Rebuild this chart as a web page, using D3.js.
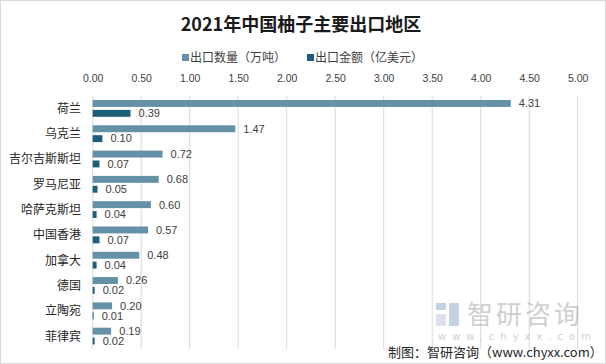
<!DOCTYPE html>
<html><head><meta charset="utf-8">
<script src="https://cdn.jsdelivr.net/npm/d3@7"></script>
<style>body{margin:0;background:#fff}svg{display:block;font-family:"Noto Sans CJK SC","Microsoft YaHei",sans-serif}</style>
</head><body>
<svg id="c" width="606" height="364"></svg>
<script>
const categories = ["荷兰","乌克兰","吉尔吉斯斯坦","罗马尼亚","哈萨克斯坦","中国香港","加拿大","德国","立陶宛","菲律宾"];
const quantity = [4.31,1.47,0.72,0.68,0.60,0.57,0.48,0.26,0.20,0.19];
const amount = [0.39,0.10,0.07,0.05,0.04,0.07,0.04,0.02,0.01,0.02];
const seriesNames = ["出口数量（万吨）","出口金额（亿美元）"];
const ticks = [0,0.5,1,1.5,2,2.5,3,3.5,4,4.5,5];
const colors = ["#6490a8","#1d5f7a"];
const numFont = "'Liberation Sans',Arial,sans-serif";

const svg = d3.select("#c");
svg.append("rect").attr("x",0.5).attr("y",0.5).attr("width",605).attr("height",363).attr("fill","#fff").attr("stroke","#d9d9d9");

const x = d3.scaleLinear().domain([0,5]).range([92.7,577.7]);
const y = d3.scaleBand().domain(categories).range([96,349]).paddingInner(0).paddingOuter(0);
const sub = d3.scaleBand().domain([0,1]).range([4,y.bandwidth()-4.5]).paddingInner(0.3);

// grid
svg.append("g").selectAll("line").data(ticks).join("line")
  .attr("x1",d=>x(d)).attr("x2",d=>x(d)).attr("y1",96).attr("y2",349)
  .attr("stroke","#d9d9d9").attr("stroke-width",1);

// top axis labels
const ax = svg.append("g").attr("transform","translate(0,85)").call(d3.axisTop(x).tickValues(ticks).tickFormat(d3.format(".2f")).tickSize(0));
ax.select(".domain").remove();
ax.selectAll("text").attr("font-size",10.5).attr("fill","#404040").attr("font-family",numFont);

// bars
const series = [quantity, amount];
series.forEach((vals,si)=>{
  const g = svg.append("g");
  g.selectAll("rect").data(vals).join("rect")
    .attr("x",x(0)).attr("y",(d,i)=>y(categories[i])+sub(si))
    .attr("width",d=>x(d)-x(0)).attr("height",sub.bandwidth())
    .attr("fill",colors[si]);
  g.selectAll("text").data(vals).join("text")
    .attr("x",d=>x(d)+8).attr("y",(d,i)=>y(categories[i])+sub(si)+sub.bandwidth()/2)
    .attr("dy","0.35em").attr("font-size",11).attr("fill","#404040")
    .attr("font-family",numFont)
    .text(d=>d.toFixed(2));
});

// category labels
svg.append("g").selectAll("text").data(categories).join("text")
  .attr("x",81).attr("y",d=>y(d)+y.bandwidth()/2).attr("dy","0.35em")
  .attr("text-anchor","end").attr("font-size",12).attr("fill","#262626").text(d=>d);

// title
svg.append("text").attr("x",301).attr("y",31).attr("text-anchor","middle")
  .attr("font-size",18).attr("font-weight","bold").attr("fill","#1a1a1a").text("2021年中国柚子主要出口地区");

// legend
const lx = [182,307];
seriesNames.forEach((n,i)=>{
  svg.append("rect").attr("x",lx[i]).attr("y",54).attr("width",7).attr("height",7).attr("fill",colors[i]);
  svg.append("text").attr("x",lx[i]+8).attr("y",57.5).attr("dy","0.35em").attr("font-size",12).attr("fill","#404040").text(n);
});

// watermark
const wm = svg.append("g").attr("opacity",0.4);
wm.append("rect").attr("x",436).attr("y",303).attr("width",10).attr("height",7).attr("fill","#6a8fb5");
wm.append("rect").attr("x",449).attr("y",303).attr("width",10).attr("height",23).attr("fill","#6a8fb5");
wm.append("rect").attr("x",436).attr("y",314).attr("width",10).attr("height",12).attr("fill","#9fb6cf");
wm.append("text").attr("x",467).attr("y",324).attr("font-size",26).attr("fill","#8a8a8a").attr("letter-spacing",3).text("智研咨询");
wm.append("text").attr("x",438).attr("y",340).attr("font-size",10).attr("fill","#8a8a8a").attr("letter-spacing",6).attr("font-family","'DejaVu Sans',sans-serif").text("www.chyxx.com");

svg.append("text").attr("x",388).attr("y",357).attr("font-size",13).attr("fill","#262626").text("制图：智研咨询（www.chyxx.com）");
</script>
</body></html>
